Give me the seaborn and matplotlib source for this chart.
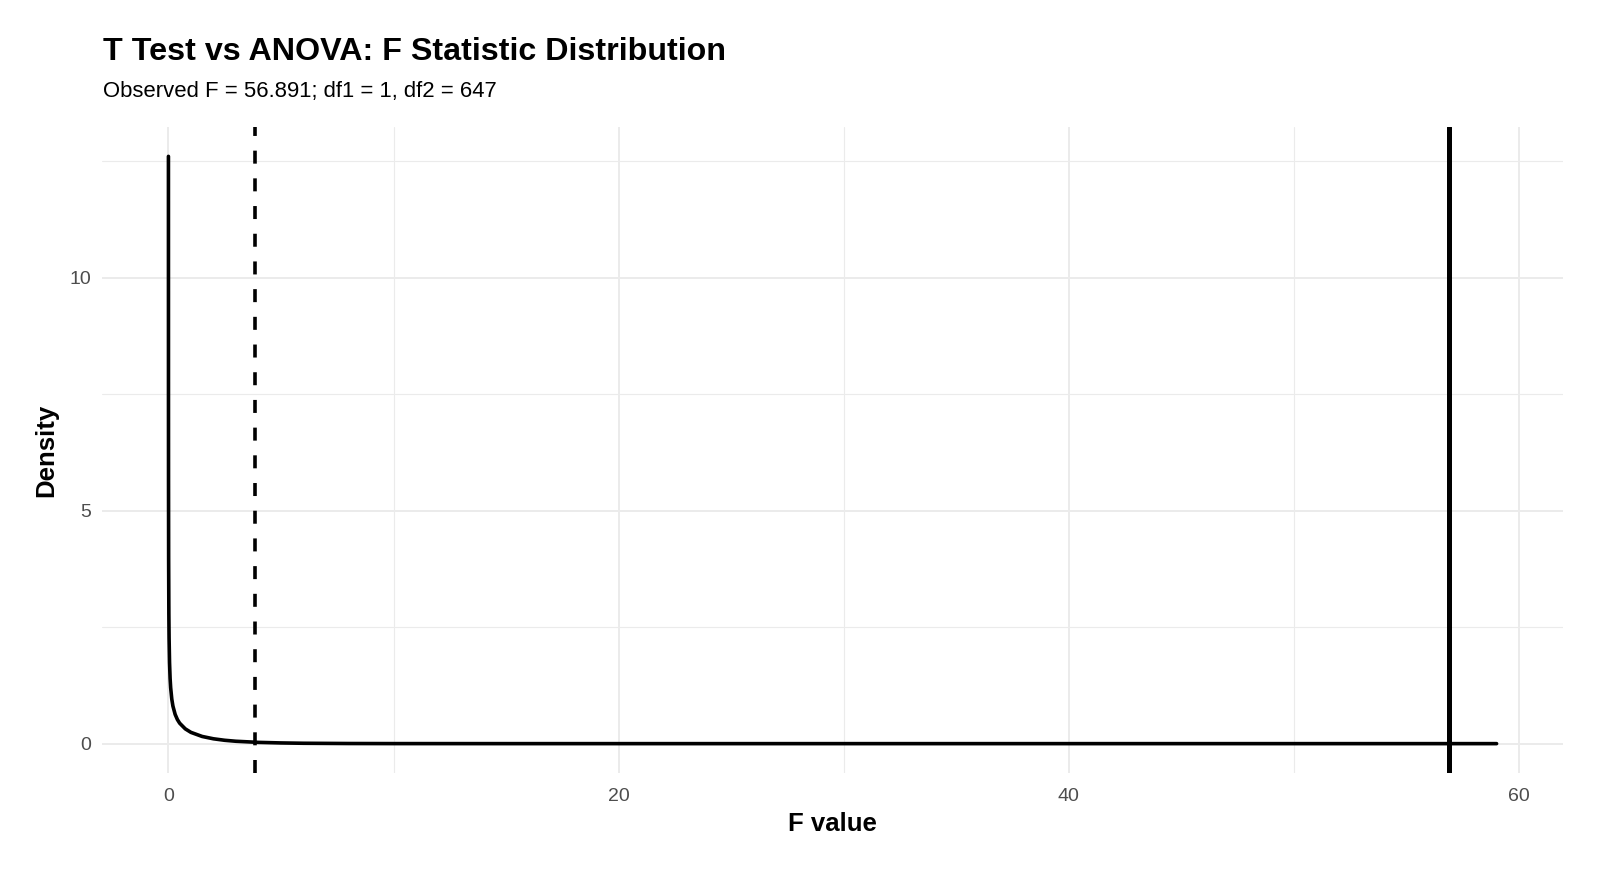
import matplotlib
matplotlib.use("Agg")
import matplotlib.pyplot as plt
import seaborn as sns
import pandas as pd

# Values
f_values = [0.001, 0.003, 0.005, 0.01, 0.02, 0.03, 0.05, 0.075, 0.1, 0.15, 0.2, 0.3,
            0.4, 0.5, 0.75, 1.0, 1.5, 2.0, 2.5, 3.0, 4.0, 5.0, 6.0, 8.0, 10.0, 15.0,
            20.0, 30.0, 40.0, 50.0, 59.0]
density = [12.61, 7.28, 5.63, 3.97, 2.79, 2.27, 1.74, 1.40, 1.20, 0.956, 0.807, 0.627,
           0.516, 0.439, 0.317, 0.242, 0.154, 0.104, 0.072, 0.051, 0.027, 0.015, 0.008,
           0.0026, 0.0008, 0.0001, 0.0, 0.0, 0.0, 0.0, 0.0]
critical_f = 3.856
observed_f = 56.891
x_ticks = [0, 20, 40, 60]
y_ticks = [0, 5, 10]

title = "T Test vs ANOVA: F Statistic Distribution"
subtitle = "Observed F = 56.891; df1 = 1, df2 = 647"

sns.set_theme(style="white")
plt.rcParams['font.family'] = ['Liberation Sans', 'DejaVu Sans']

W, H = 1600, 873
fig = plt.figure(figsize=(W / 100, H / 100), dpi=100)
ax = fig.add_axes([102 / W, (H - 773) / H, (1563 - 102) / W, (773 - 127) / H])

df = pd.DataFrame({"F": f_values, "Density": density})

# grid
for v in [10, 30, 50]:
    ax.axvline(v, color="#EBEBEB", lw=0.8, zorder=0)
for v in [2.5, 7.5, 12.5]:
    ax.axhline(v, color="#EBEBEB", lw=0.8, zorder=0)
for v in x_ticks:
    ax.axvline(v, color="#EBEBEB", lw=1.4, zorder=0)
for v in y_ticks:
    ax.axhline(v, color="#EBEBEB", lw=1.4, zorder=0)

sns.lineplot(data=df, x="F", y="Density", ax=ax, color="black", lw=2.6, zorder=3)
ax.axvline(critical_f, color="black", lw=2.6, dashes=(13 / 1.389 / 2.6, 14.7 / 1.389 / 2.6), zorder=4)
ax.axvline(observed_f, color="black", lw=3.6, zorder=5)

xmin, xmax = 0, 59
ymin, ymax = 0, 12.61
ax.set_xlim(xmin - 0.05 * (xmax - xmin), xmax + 0.05 * (xmax - xmin))
ax.set_ylim(ymin - 0.05 * (ymax - ymin), ymax + 0.05 * (ymax - ymin))
ax.set_xticks(x_ticks)
ax.set_yticks(y_ticks)
ax.tick_params(axis="both", length=0, labelsize=14, labelcolor="#4D4D4D")
ax.tick_params(axis="x", pad=11)
ax.tick_params(axis="y", pad=8)
for s in ax.spines.values():
    s.set_visible(False)
ax.grid(False)

ax.set_xlabel("F value", fontsize=18.5, fontweight="bold", color="black", labelpad=4.5)
ax.set_ylabel("Density", fontsize=18.5, fontweight="bold", color="black", labelpad=8)

fig.text(103 / W, 1 - 59.5 / H, title, fontsize=23.2, fontweight="bold", color="black",
         ha="left", va="baseline")
fig.text(103 / W, 1 - 97 / H, subtitle, fontsize=15.9, color="black", ha="left", va="baseline")

fig.savefig("out.png", dpi=100, facecolor="white")
